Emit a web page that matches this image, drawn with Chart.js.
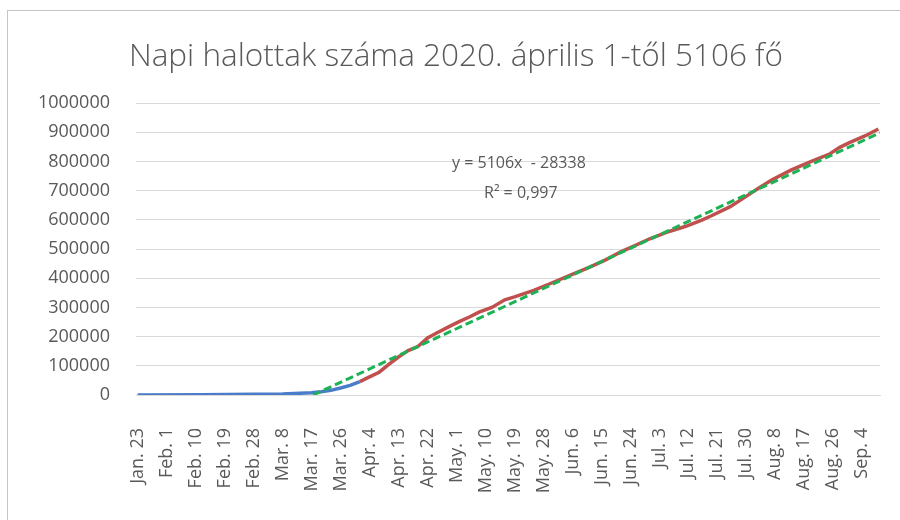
<!DOCTYPE html>
<html>
<head>
<meta charset="utf-8">
<script src="https://cdn.jsdelivr.net/npm/chart.js@4.4.1/dist/chart.umd.min.js"></script>
<style>
  html, body { margin: 0; padding: 0; background: #fff; }
  #wrap { position: relative; width: 900px; height: 520px; overflow: hidden; background: #fff; }
  #frame { position: absolute; left: 7px; top: 10px; width: 900px; height: 520px;
           border-left: 1px solid #c4c4c4; border-top: 1px solid #c4c4c4; }
  canvas { position: absolute; left: 0; top: 0; }
</style>
</head>
<body>
<div id="wrap">
  <div id="frame"></div>
  <canvas id="chart" width="900" height="520"></canvas>
</div>
<script>
const title = "Napi halottak száma 2020. április 1-től 5106 fő";

// x axis: one unit = one day from Jan. 23, a label every 9 days
const dateLabels = ["Jan. 23", "Feb. 1", "Feb. 10", "Feb. 19", "Feb. 28", "Mar. 8", "Mar. 17",
  "Mar. 26", "Apr. 4", "Apr. 13", "Apr. 22", "May. 1", "May. 10", "May. 19", "May. 28",
  "Jun. 6", "Jun. 15", "Jun. 24", "Jul. 3", "Jul. 12", "Jul. 21", "Jul. 30", "Aug. 8",
  "Aug. 17", "Aug. 26", "Sep. 4"];

// before April 1 (blue)
const blueDays   = [0, 20, 36, 45, 54, 57, 60, 63, 66, 69];
const blueDeaths = [0, 1000, 2800, 3800, 7500, 11000, 16000, 24000, 33000, 46000];

// from April 1 (red)
const redDays   = [69, 72, 75, 78, 81, 84, 87, 90, 93, 97, 100, 103, 106, 110, 114, 117, 120,
  123, 128, 134, 140, 145, 150, 153, 159, 165, 170, 175, 178, 184, 190, 193, 197, 203, 209,
  215, 218, 221, 226, 230];
const redDeaths = [46000, 62000, 78000, 105000, 130000, 152000, 166000, 195000, 213000, 236000,
  252000, 267000, 284000, 300000, 326000, 336000, 347000, 358000, 381000, 409000, 436000,
  461000, 490000, 505000, 535000, 560000, 577000, 598000, 613000, 645000, 688000, 710000,
  737000, 771000, 799000, 826000, 848000, 864000, 888000, 911000];

// linear trendline, ends
const trendDays   = [54.5, 230.5];
const trendDeaths = [0, 898000];
const trendText = ["y = 5106x  - 28338", "R² = 0,997"];

const textColor = "#595959";
const gridColor = "#d9d9d9";

function points(xs, ys) {
  return xs.map((x, i) => ({ x: x, y: ys[i] }));
}

// title and trendline equation, placed like the Excel chart
const texts = {
  id: "texts",
  afterDatasetsDraw(chart) {
    const ctx = chart.ctx;
    ctx.save();
    ctx.fillStyle = textColor;
    ctx.font = '300 31.5px "Open Sans"';
    ctx.textAlign = "center";
    ctx.textBaseline = "middle";
    ctx.fillText(title, 456, 57);
    ctx.font = '16px "Open Sans"';
    ctx.textAlign = "left";
    ctx.textBaseline = "alphabetic";
    ctx.fillText(trendText[0], 452, 168);
    ctx.fillText(trendText[1], 484, 198);
    ctx.restore();
  }
};

function draw() {
  new Chart(document.getElementById("chart"), {
    type: "line",
    data: {
      datasets: [
        {
          label: "Trend",
          data: points(trendDays, trendDeaths),
          borderColor: "#1db355",
          borderWidth: 3,
          borderDash: [8, 4],
          pointRadius: 0,
          fill: false
        },
        {
          label: "április 1-től",
          data: points(redDays, redDeaths),
          borderColor: "#c0504d",
          borderWidth: 3.5,
          pointRadius: 0,
          tension: 0,
          fill: false
        },
        {
          label: "április 1-ig",
          data: points(blueDays, blueDeaths),
          borderColor: "#4a7cc9",
          borderWidth: 3.5,
          pointRadius: 0,
          tension: 0,
          fill: false
        }
      ]
    },
    options: {
      responsive: false,
      animation: false,
      devicePixelRatio: 1,
      layout: { padding: { top: 103, right: 20, left: 0, bottom: 0 } },
      plugins: {
        legend: { display: false },
        tooltip: { enabled: false },
        title: { display: false }
      },
      scales: {
        x: {
          type: "linear",
          min: -0.5,
          max: 230.5,
          afterBuildTicks: (scale) => {
            scale.ticks = dateLabels.map((l, i) => ({ value: i * 9 }));
          },
          afterFit: (scale) => {
            scale.height = 125;
            scale.paddingLeft = 0;
            scale.paddingRight = 0;
          },
          ticks: {
            autoSkip: false,
            minRotation: 90,
            maxRotation: 90,
            padding: 33,
            color: textColor,
            font: { family: "Open Sans", size: 18 },
            callback: (v, i) => dateLabels[i]
          },
          grid: { display: false, drawTicks: false },
          border: { display: true, color: gridColor }
        },
        y: {
          min: 0,
          max: 1000000,
          afterFit: (scale) => { scale.width = 136; },
          ticks: {
            stepSize: 100000,
            padding: 26,
            color: textColor,
            font: { family: "Open Sans", size: 18 },
            callback: (v) => String(v)
          },
          grid: { color: gridColor, drawTicks: false },
          border: { display: false }
        }
      }
    },
    plugins: [texts]
  });
}

Promise.all([
  document.fonts.load('300 31.5px "Open Sans"'),
  document.fonts.load('18px "Open Sans"')
]).then(draw, draw);
</script>
</body>
</html>
